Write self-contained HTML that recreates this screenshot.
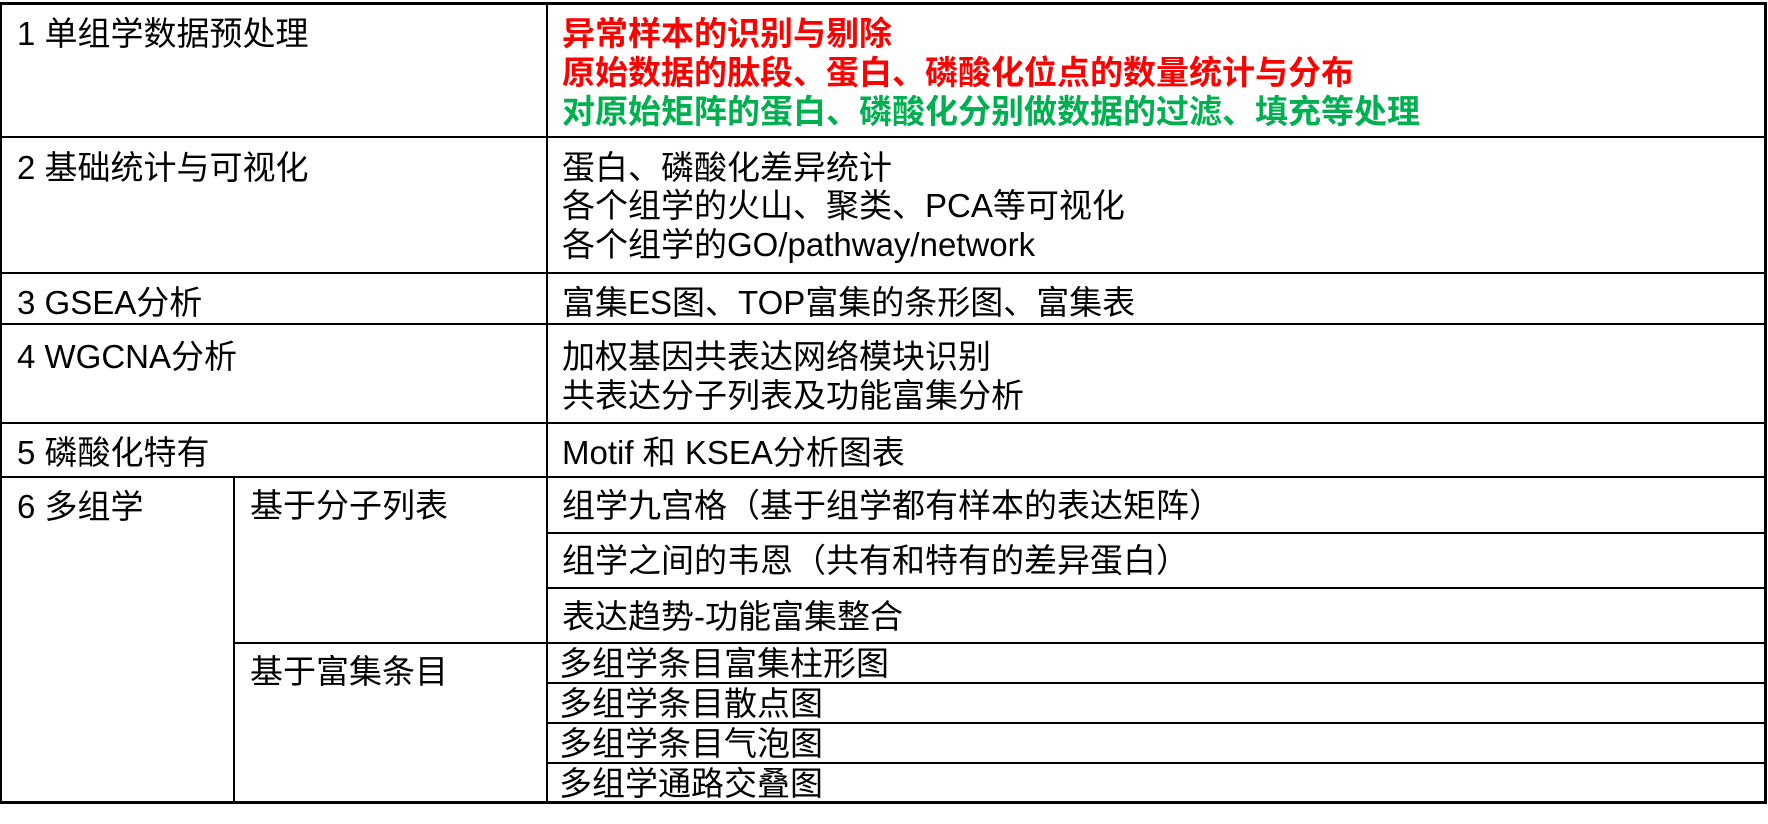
<!DOCTYPE html>
<html><head><meta charset="utf-8"><style>
body{margin:0;width:1768px;height:824px;background:#fff;position:relative;overflow:hidden;font-family:"Liberation Sans","Noto Sans CJK SC",sans-serif;}
.h{position:absolute;height:2px;background:#000;}
.v{position:absolute;width:2px;background:#000;}
.t{position:absolute;font-size:33px;line-height:38px;height:38px;white-space:nowrap;color:#000;}
.r{color:#ff0000;font-weight:bold}
.g{color:#00b050;font-weight:bold}
</style></head><body>
<div class="h" style="left:1px;top:2px;width:1766px;height:3px"></div>
<div class="h" style="left:1px;top:136px;width:1766px"></div>
<div class="h" style="left:1px;top:272px;width:1766px"></div>
<div class="h" style="left:1px;top:323px;width:1766px"></div>
<div class="h" style="left:1px;top:422px;width:1766px"></div>
<div class="h" style="left:1px;top:476px;width:1766px"></div>
<div class="h" style="left:547px;top:532px;width:1220px"></div>
<div class="h" style="left:547px;top:587px;width:1220px"></div>
<div class="h" style="left:234px;top:642px;width:1533px"></div>
<div class="h" style="left:547px;top:682px;width:1220px"></div>
<div class="h" style="left:547px;top:722px;width:1220px"></div>
<div class="h" style="left:547px;top:762px;width:1220px"></div>
<div class="h" style="left:1px;top:801px;width:1766px;height:3px"></div>
<div class="v" style="left:0px;top:2px;height:802px"></div>
<div class="v" style="left:1764px;top:2px;height:802px;width:3px"></div>
<div class="v" style="left:546px;top:2px;height:802px"></div>
<div class="v" style="left:233px;top:476px;height:328px"></div>

<div class="t" style="left:17px;top:15px">1 单组学数据预处理</div>
<div class="t r" style="left:562px;top:15px">异常样本的识别与剔除</div>
<div class="t r" style="left:562px;top:54px">原始数据的肽段、蛋白、磷酸化位点的数量统计与分布</div>
<div class="t g" style="left:562px;top:93px">对原始矩阵的蛋白、磷酸化分别做数据的过滤、填充等处理</div>

<div class="t" style="left:17px;top:149px">2 基础统计与可视化</div>
<div class="t" style="left:562px;top:149px">蛋白、磷酸化差异统计</div>
<div class="t" style="left:562px;top:187px">各个组学的火山、聚类、PCA等可视化</div>
<div class="t" style="left:562px;top:226px">各个组学的GO/pathway/network</div>

<div class="t" style="left:17px;top:284px">3 GSEA分析</div>
<div class="t" style="left:562px;top:284px">富集ES图、TOP富集的条形图、富集表</div>

<div class="t" style="left:17px;top:338px">4 WGCNA分析</div>
<div class="t" style="left:562px;top:338px">加权基因共表达网络模块识别</div>
<div class="t" style="left:562px;top:377px">共表达分子列表及功能富集分析</div>

<div class="t" style="left:17px;top:434px">5 磷酸化特有</div>
<div class="t" style="left:562px;top:434px">Motif 和 KSEA分析图表</div>

<div class="t" style="left:17px;top:488px">6 多组学</div>
<div class="t" style="left:250px;top:487px">基于分子列表</div>
<div class="t" style="left:562px;top:487px">组学九宫格（基于组学都有样本的表达矩阵）</div>
<div class="t" style="left:562px;top:542px">组学之间的韦恩（共有和特有的差异蛋白）</div>
<div class="t" style="left:562px;top:598px">表达趋势-功能富集整合</div>
<div class="t" style="left:250px;top:653px">基于富集条目</div>
<div class="t" style="left:559px;top:645px">多组学条目富集柱形图</div>
<div class="t" style="left:559px;top:685px">多组学条目散点图</div>
<div class="t" style="left:559px;top:725px">多组学条目气泡图</div>
<div class="t" style="left:559px;top:765px">多组学通路交叠图</div>
</body></html>
